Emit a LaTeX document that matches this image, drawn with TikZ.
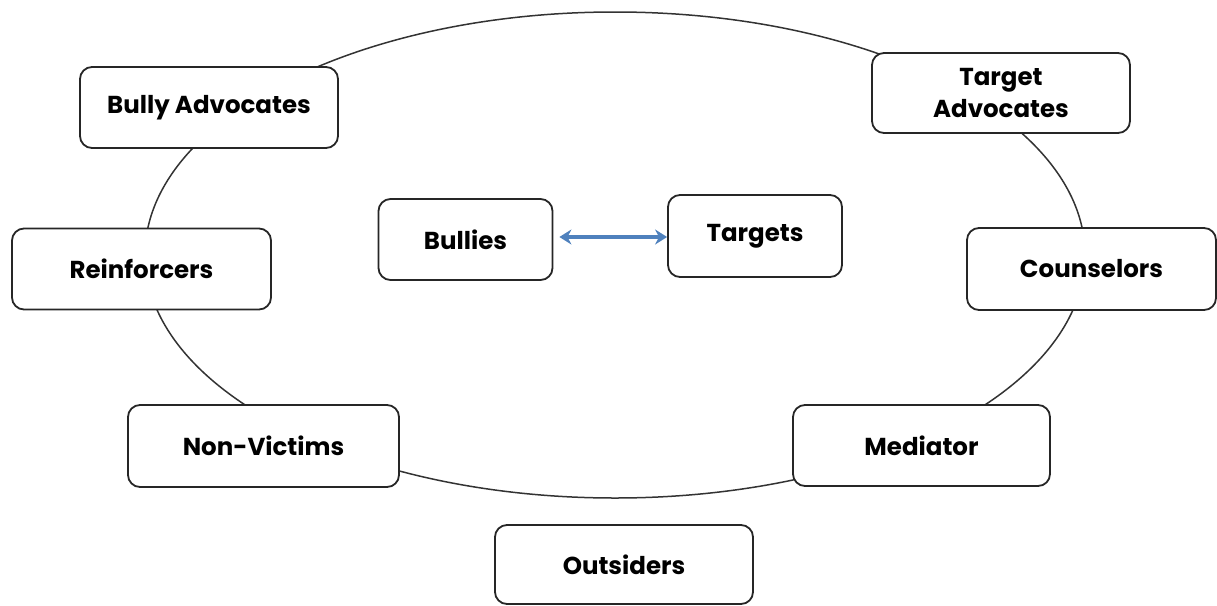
\documentclass[tikz,border=0pt]{standalone}
\usepackage{fontspec}
\setmainfont{Poppins}
\usetikzlibrary{arrows.meta}
\definecolor{arrblue}{RGB}{79,129,189}
\begin{document}
\begin{tikzpicture}[x=1pt,y=-1pt,
  box/.style={draw=black!85, line width=1.8pt, rounded corners=12pt, fill=white,
    inner sep=0pt, align=center, font=\fontsize{24.5}{32}\selectfont\bfseries},
  ring/.style={draw=black!80, line width=1.5pt},
  arr/.style={draw=arrblue, line width=3.6pt, {Stealth[length=12pt,width=15pt]}-{Stealth[length=12pt,width=15pt]}}]
\useasboundingbox (0,0) rectangle (1217,605);
\draw[ring] (615,255) ellipse [x radius=470, y radius=243];
\node[box, minimum width=258pt, minimum height=81pt] (ba) at (209,107.5) {Bully Advocates};
\node[box, minimum width=258pt, minimum height=80pt] (ta) at (1001,93) {Target\\Advocates};
\node[box, minimum width=174pt, minimum height=81pt] (bul) at (465.5,239.5) {Bullies};
\node[box, minimum width=174pt, minimum height=82pt] (tar) at (755,236) {Targets};
\node[box, minimum width=259pt, minimum height=81pt] (rei) at (141.5,269) {Reinforcers};
\node[box, minimum width=249pt, minimum height=82pt] (cou) at (1091.5,269) {Counselors};
\node[box, minimum width=271pt, minimum height=82pt] (nv) at (263.5,446) {Non-Victims};
\node[box, minimum width=257pt, minimum height=81pt] (med) at (921.5,445.5) {Mediator};
\node[box, minimum width=258pt, minimum height=79pt] (out) at (624,564.5) {Outsiders};
\draw[arr] ([xshift=6pt]bul.east |- tar.west) ++(0,1) -- ([yshift=-1pt]tar.west);
\end{tikzpicture}
\end{document}
